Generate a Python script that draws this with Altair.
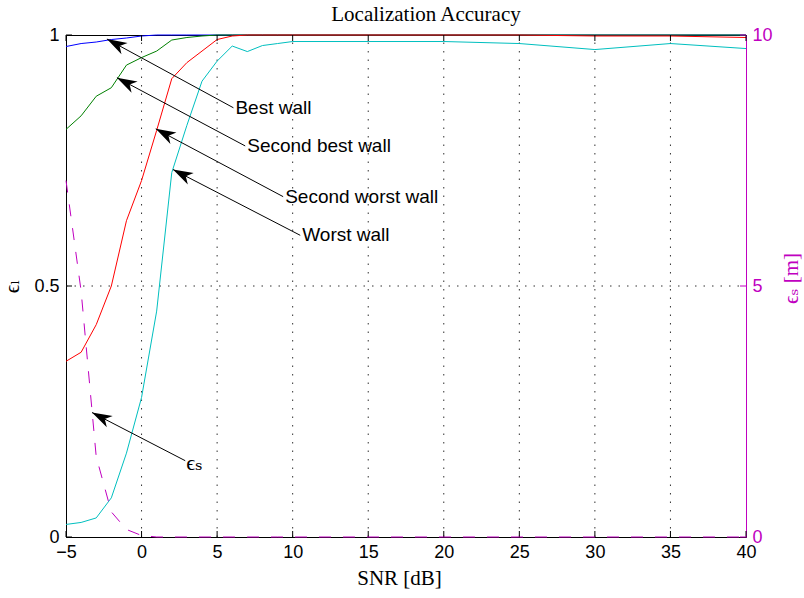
import math
import altair as alt
import pandas as pd

# ---------------- data ----------------
snr = [-5, -4, -3, -2, -1, 0, 1, 2, 3, 4, 5, 6, 7, 8, 9, 10, 15, 20, 25, 30, 35, 40]
best_wall = [0.977, 0.983, 0.986, 0.991, 0.994, 0.998, 1, 1, 1, 1, 1, 1, 1, 1, 1, 1,
             1, 1, 1, 1, 1, 1]
second_best_wall = [0.812, 0.839, 0.878, 0.895, 0.940, 0.955, 0.968, 0.990, 0.995, 0.998,
                    1, 1, 1, 1, 1, 1, 1, 1, 1, 1, 1, 1]
second_worst_wall = [0.350, 0.368, 0.423, 0.500, 0.630, 0.710, 0.810, 0.913, 0.945, 0.968,
                     0.991, 0.998, 1, 1, 1, 1, 1, 1, 1, 0.998, 0.998, 0.995]
worst_wall = [0.025, 0.029, 0.038, 0.078, 0.167, 0.278, 0.450, 0.726, 0.820, 0.908,
              0.948, 0.978, 0.967, 0.979, 0.983, 0.987, 0.987, 0.987, 0.983, 0.971,
              0.983, 0.973]
eps_s = [7.1, 4.9, 1.6, 0.5, 0.15, 0.03, 0, 0, 0, 0, 0, 0, 0, 0, 0, 0,
         0, 0, 0, 0, 0, 0]

series_names = ["Best wall", "Second best wall", "Second worst wall", "Worst wall"]
series_colors = ["#0000ff", "#008000", "#ff0000", "#00bfbf"]
series_values = [best_wall, second_best_wall, second_worst_wall, worst_wall]

x_ticks = [-5, 0, 5, 10, 15, 20, 25, 30, 35, 40]
x_grid = [0, 5, 10, 15, 20, 25, 30, 35]
yl_ticks = [0, 0.5, 1]
yl_grid = [0.5]
yr_ticks = [0, 5, 10]

ann_labels = ["Best wall", "Second best wall", "Second worst wall", "Worst wall", "ϵₛ"]
ann_tip_x = [-2.29, -1.63, 0.94, 2.08, -3.28]
ann_tip_y = [0.992, 0.915, 0.813, 0.732, 0.248]
ann_tail_x = [6.08, 6.86, 9.37, 10.5, 2.89]
ann_tail_y = [0.855, 0.779, 0.678, 0.601, 0.152]

# ---------------- style ----------------
W, H = 680, 502
MAG = "#c000c0"
SANS = "Liberation Sans, Arial, Helvetica"
SERIF = "Liberation Serif, DejaVu Serif"
ARROW = "M0,0 L0.32,1 L0,0.72 L-0.32,1 Z"

x_scale = alt.Scale(domain=[-5, 40], nice=False, zero=False)
yl_scale = alt.Scale(domain=[0, 1], nice=False, zero=False)
yr_scale = alt.Scale(domain=[0, 10], nice=False, zero=False)

x_axis = alt.Axis(values=x_ticks, ticks=False, grid=False, domainColor="black",
                  labelFont=SANS, labelFontSize=18, labelColor="black", labelPadding=6,
                  labelFlush=False,
                  title="SNR [dB]", titleFont=SERIF, titleFontSize=21,
                  titleFontWeight="normal", titleColor="black",
                  titleX=333, titleY=41, titleBaseline="middle", titleAlign="center")
yl_axis = alt.Axis(values=yl_ticks, format="~g", ticks=False, grid=False, orient="left",
                   domainColor="black", labelFont=SANS, labelFontSize=18,
                   labelColor="black", labelPadding=7,
                   title="ϵₗ", titleFont=SERIF, titleFontSize=21, titleFontWeight="normal",
                   titleColor="black", titleAngle=270, titleX=-54, titleY=251,
                   titleAlign="center", titleBaseline="middle")
yr_axis = alt.Axis(values=yr_ticks, format="d", ticks=False, grid=False, orient="right",
                   domainColor=MAG, labelFont=SANS, labelFontSize=18,
                   labelColor=MAG, labelPadding=6,
                   title="ϵₛ [m]", titleFont=SERIF, titleFontSize=21,
                   titleFontWeight="normal", titleColor=MAG, titleAngle=270,
                   titleX=45, titleY=243, titleAlign="center", titleBaseline="middle")

# ---------------- tables ----------------
rows = []
for name, vals in zip(series_names, series_values):
    for s, v in zip(snr, vals):
        rows.append({"snr": s, "value": v, "series": name})
walls = pd.DataFrame(rows)
eps_df = pd.DataFrame({"snr": snr, "eps": eps_s})

ann = pd.DataFrame({"label": ann_labels, "tx": ann_tip_x, "ty": ann_tip_y,
                    "sx": ann_tail_x, "sy": ann_tail_y})
ann["angle"] = [
    math.degrees(math.atan2((tx - sx) * W / 45.0, (ty - sy) * H)) % 360
    for tx, ty, sx, sy in zip(ann.tx, ann.ty, ann.sx, ann.sy)
]

xt_df = pd.DataFrame({"x": x_ticks})
xg_df = pd.DataFrame({"x": x_grid})
ylt_df = pd.DataFrame({"y": yl_ticks})
ylg_df = pd.DataFrame({"y": yl_grid})
yrt_df = pd.DataFrame({"y": yr_ticks})

# ---------------- left (walls) layer ----------------
left_layers = []

left_layers.append(
    alt.Chart(xg_df).mark_rule(color="#333333", strokeDash=[1.5, 7], strokeWidth=1).encode(
        x=alt.X("x:Q", scale=x_scale, axis=x_axis),
        y=alt.Y("y0:Q", scale=yl_scale, axis=yl_axis),
    ).transform_calculate(y0="0")
    .encode(y2=alt.value(0))
)
left_layers.append(
    alt.Chart(ylg_df).mark_rule(color="#333333", strokeDash=[1.5, 7], strokeWidth=1).encode(
        y=alt.Y("y:Q", scale=yl_scale),
        x=alt.value(0), x2=alt.value(W),
    )
)

for name, col in zip(series_names, series_colors):
    left_layers.append(
        alt.Chart(walls).transform_filter(alt.datum.series == name)
        .mark_line(color=col, strokeWidth=1)
        .encode(x=alt.X("snr:Q", scale=x_scale),
                y=alt.Y("value:Q", scale=yl_scale))
    )

# inward ticks (bottom, top, left)
left_layers.append(
    alt.Chart(xt_df).mark_rule(color="black", strokeWidth=1).encode(
        x=alt.X("x:Q", scale=x_scale), y=alt.value(H), y2=alt.value(H - 6)))
left_layers.append(
    alt.Chart(xt_df).mark_rule(color="black", strokeWidth=1).encode(
        x=alt.X("x:Q", scale=x_scale), y=alt.value(0), y2=alt.value(6)))
left_layers.append(
    alt.Chart(ylt_df).mark_rule(color="black", strokeWidth=1).encode(
        y=alt.Y("y:Q", scale=yl_scale), x=alt.value(0), x2=alt.value(6)))

# annotation arrows
left_layers.append(
    alt.Chart(ann).mark_rule(color="black", strokeWidth=1).encode(
        x=alt.X("sx:Q", scale=x_scale), y=alt.Y("sy:Q", scale=yl_scale),
        x2="tx:Q", y2="ty:Q"))
left_layers.append(
    alt.Chart(ann).mark_point(shape=ARROW, filled=True, color="black", opacity=1,
                              size=1600, strokeWidth=0).encode(
        x=alt.X("tx:Q", scale=x_scale), y=alt.Y("ty:Q", scale=yl_scale),
        angle=alt.Angle("angle:Q", scale=None)))
left_layers.append(
    alt.Chart(ann).transform_filter(alt.datum.label != "ϵₛ")
    .mark_text(align="left", baseline="middle", font=SANS, fontSize=19, dx=2,
               color="black").encode(
        x=alt.X("sx:Q", scale=x_scale), y=alt.Y("sy:Q", scale=yl_scale),
        text="label:N"))
left_layers.append(
    alt.Chart(ann).transform_filter(alt.datum.label == "ϵₛ")
    .mark_text(align="left", baseline="middle", font=SERIF, fontSize=22, dx=1, dy=2,
               color="black").encode(
        x=alt.X("sx:Q", scale=x_scale), y=alt.Y("sy:Q", scale=yl_scale),
        text="label:N"))

left = alt.layer(*left_layers)

# ---------------- right (eps_s) layer ----------------
right = alt.layer(
    alt.Chart(eps_df).mark_line(color=MAG, strokeDash=[12, 12], strokeWidth=1).encode(
        x=alt.X("snr:Q", scale=x_scale),
        y=alt.Y("eps:Q", scale=yr_scale, axis=yr_axis)),
    alt.Chart(yrt_df).mark_rule(color=MAG, strokeWidth=1).encode(
        y=alt.Y("y:Q", scale=yr_scale), x=alt.value(W), x2=alt.value(W - 6)),
)

chart = (
    alt.layer(left, right)
    .resolve_scale(y="independent")
    .properties(
        width=W, height=H,
        padding={"left": 66, "top": 35, "right": 58, "bottom": 61},
        autosize=alt.AutoSizeParams(type="none"),
        title=alt.TitleParams("Localization Accuracy", font=SERIF, fontSize=21,
                              fontWeight="normal", color="black", anchor="middle",
                              frame="group", offset=1, dx=20),
        background="white",
    )
    .configure_view(stroke="black", strokeWidth=1)
)

chart.save("out.html", embed_options={"renderer": "svg", "actions": False})
